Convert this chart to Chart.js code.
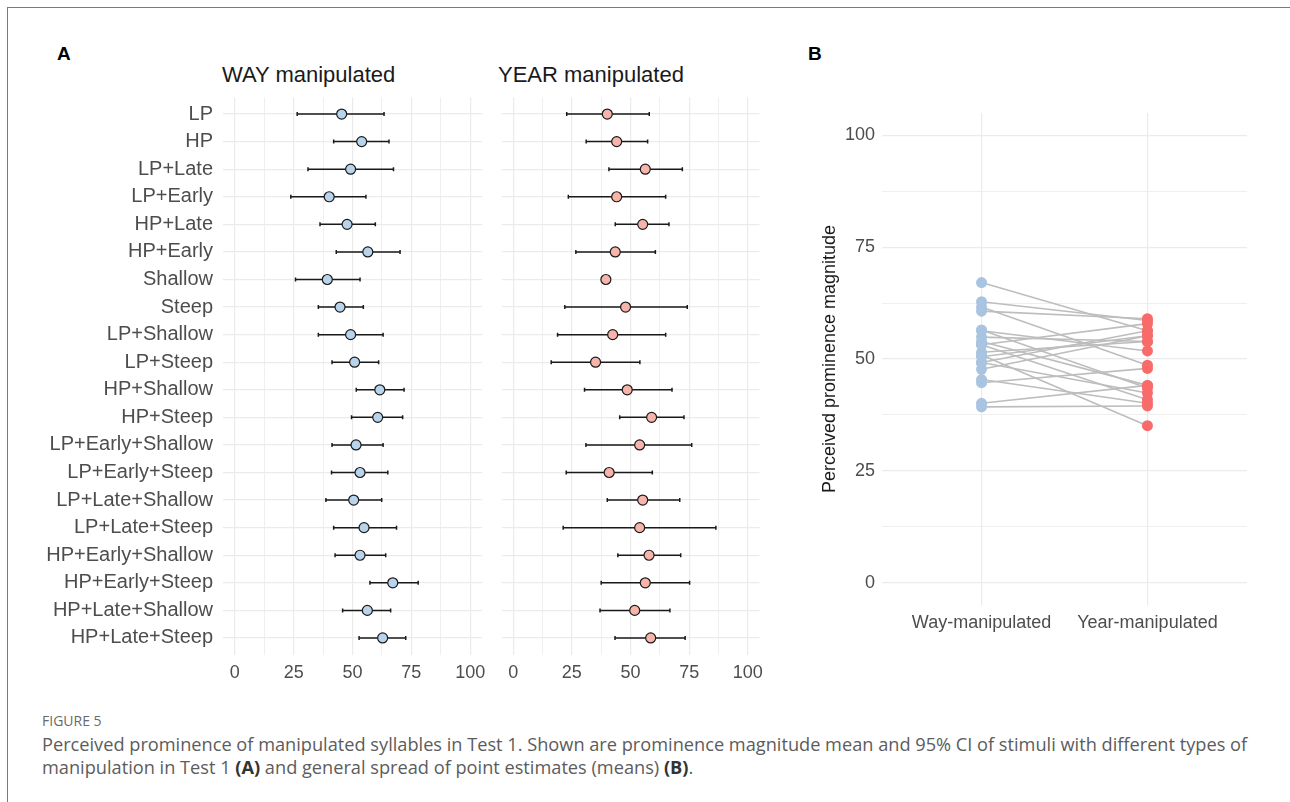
<!DOCTYPE html>
<html>
<head>
<meta charset="utf-8">
<script src="https://cdn.jsdelivr.net/npm/chart.js@4/dist/chart.umd.min.js"></script>
<style>
  body { margin: 0; background: #fff; }
  #page { position: relative; width: 1290px; height: 802px; overflow: hidden; background: #fff; }
  #page canvas { position: absolute; }
  .frame { position: absolute; left: 7px; top: 7px; width: 1290px; height: 800px; border-top: 1px solid #7a7a7a; border-left: 1px solid #7a7a7a; }
  .panel-letter { position: absolute; font: bold 19px "Liberation Sans", Arial, sans-serif; color: #000; line-height: 1; }
  .facet-title { position: absolute; font: 22px "Liberation Sans", Arial, sans-serif; color: #1a1a1a; line-height: 1; white-space: nowrap; }
  .fig-label { position: absolute; left: 42px; top: 711px; font: 14px "Open Sans", Lato, sans-serif; color: #6a6a6a; }
  .caption { position: absolute; left: 42px; top: 733px; font: 18.2px "Open Sans", Lato, sans-serif; line-height: 23px; color: #5c5c5c; white-space: nowrap; }
  .caption b { color: #333; }
</style>
</head>
<body>
<div id="page">
  <div class="frame"></div>
  <div class="panel-letter" style="left:57px; top:44px;">A</div>
  <div class="panel-letter" style="left:808px; top:44px;">B</div>
  <div class="facet-title" style="left:222px; top:64px;">WAY manipulated</div>
  <div class="facet-title" style="left:498px; top:64px;">YEAR manipulated</div>
  <canvas id="wayChart" width="470" height="610" style="left:20px; top:90px;"></canvas>
  <canvas id="yearChart" width="275" height="610" style="left:495px; top:90px;"></canvas>
  <canvas id="spreadChart" width="460" height="540" style="left:810px; top:100px;"></canvas>
  <div class="fig-label">FIGURE 5</div>
  <div class="caption">Perceived prominence of manipulated syllables in Test 1. Shown are prominence magnitude mean and 95% CI of stimuli with different types of<br>manipulation in Test 1 <b>(A)</b> and general spread of point estimates (means) <b>(B)</b>.</div>
</div>
<script>
const rowLabels = ['LP', 'HP', 'LP+Late', 'LP+Early', 'HP+Late', 'HP+Early', 'Shallow', 'Steep',
  'LP+Shallow', 'LP+Steep', 'HP+Shallow', 'HP+Steep', 'LP+Early+Shallow', 'LP+Early+Steep',
  'LP+Late+Shallow', 'LP+Late+Steep', 'HP+Early+Shallow', 'HP+Early+Steep', 'HP+Late+Shallow', 'HP+Late+Steep'];

// WAY manipulated: mean and 95% CI
const wayMean = [45.4, 53.9, 49.2, 40.1, 47.7, 56.5, 39.3, 44.7, 49.2, 50.9, 61.6, 60.7, 51.5, 53.2, 50.5, 54.9, 53.2, 67.1, 56.3, 62.8];
const wayLow  = [26.5, 42.0, 31.1, 23.8, 36.2, 43.1, 25.8, 35.5, 35.5, 41.3, 51.6, 49.6, 41.3, 41.1, 38.7, 42.0, 42.6, 57.4, 45.8, 52.8];
const wayHigh = [63.4, 65.5, 67.4, 55.7, 59.7, 70.2, 53.2, 54.6, 63.0, 61.1, 71.9, 71.3, 63.0, 65.0, 62.4, 68.7, 64.1, 77.9, 66.2, 72.6];

// YEAR manipulated: mean and 95% CI
const yearMean = [40.1, 44.1, 56.3, 44.1, 55.2, 43.5, 39.5, 47.9, 42.4, 35.1, 48.6, 59.0, 53.9, 40.9, 55.2, 53.9, 57.9, 56.3, 51.8, 58.6];
const yearLow  = [22.8, 31.1, 40.8, 23.5, 43.5, 26.7, 39.5, 22.0, 18.9, 16.2, 30.4, 45.4, 31.0, 22.6, 40.1, 21.3, 44.6, 37.5, 37.0, 43.4];
const yearHigh = [58.0, 57.3, 72.1, 65.0, 66.4, 60.6, 39.5, 74.2, 65.0, 54.0, 67.7, 72.8, 76.1, 59.3, 71.0, 86.4, 71.4, 75.2, 66.8, 73.3];

const groupLabels = ['Way-manipulated', 'Year-manipulated'];
const valueTicks = [0, 12.5, 25, 37.5, 50, 62.5, 75, 87.5, 100];

const gridGrey = '#ebebeb';
const tickGrey = '#4d4d4d';
const fontFamily = '"Liberation Sans", Arial, sans-serif';

// keep tick labels from pushing the plot area around
function noPad(s){
    s.paddingTop = 0; s.paddingBottom = 0;
    s.paddingLeft = 0; s.paddingRight = 0;
}

function facetChart(canvas, means, lows, highs, fill, showLabels, pad) {
    let ciPoints = [];
    rowLabels.forEach((label, i) => {
        ciPoints.push({x: lows[i], y: i + 1});
        ciPoints.push({x: highs[i], y: i + 1});
        ciPoints.push({x: null, y: i + 1});
    });
    let meanPoints = means.map((m, i) => ({x: m, y: i + 1}));

    return new Chart(canvas, {
        type: 'scatter',
        data: {
            datasets: [{
                data: meanPoints,
                order: 0,
                pointRadius: 5,
                pointBackgroundColor: fill,
                pointBorderColor: '#1a1a1a',
                pointBorderWidth: 1.2
            }, {
                data: ciPoints,
                order: 1,
                showLine: true,
                spanGaps: false,
                borderColor: '#1a1a1a',
                borderWidth: 1.5,
                pointStyle: 'line',
                rotation: 90,
                pointRadius: 2,
                pointBorderColor: '#1a1a1a',
                pointBorderWidth: 1.5
            }]
        },
        options: {
            responsive: false,
            animation: false,
            layout: {padding: pad},
            plugins: {legend: {display: false}, tooltip: {enabled: false}},
            scales: {
                x: {
                    type: 'linear', min: -5, max: 105,
                    afterBuildTicks: s => { s.ticks = valueTicks.map(v => ({value: v})); },
                    afterFit: s => { s.height = 45.5; noPad(s); },
                    border: {display: false},
                    grid: {
                        color: gridGrey, drawTicks: false,
                        lineWidth: c => (c.tick && c.tick.value % 25 === 0) ? 1.2 : 0.8
                    },
                    ticks: {
                        autoSkip: false, maxRotation: 0, padding: 8, color: tickGrey,
                        font: {family: fontFamily, size: 18},
                        callback: v => v % 25 === 0 ? v : ''
                    }
                },
                y: {
                    type: 'linear', min: 0.4, max: 20.6, reverse: true,
                    afterBuildTicks: s => { s.ticks = rowLabels.map((l, i) => ({value: i + 1})); },
                    afterFit: s => { s.width = showLabels ? 203 : 0; noPad(s); },
                    border: {display: false},
                    grid: {color: gridGrey, drawTicks: false, lineWidth: 1.2},
                    ticks: {
                        display: showLabels, autoSkip: false, padding: 10, color: tickGrey,
                        font: {family: fontFamily, size: 20},
                        callback: v => rowLabels[Math.round(v) - 1]
                    }
                }
            }
        }
    });
}

facetChart(document.getElementById('wayChart'), wayMean, wayLow, wayHigh, '#b8d4ec', true,
    {top: 7.5, right: 8, left: 0, bottom: 0});
facetChart(document.getElementById('yearChart'), yearMean, yearLow, yearHigh, '#f7b4aa', false,
    {top: 7.5, right: 10.5, left: 6.5, bottom: 0});

// panel B: each stimulus connects its way mean with its year mean
let pairLines = wayMean.map((w, i) => ({
    data: [{x: 1, y: w}, {x: 2, y: yearMean[i]}],
    order: 1,
    showLine: true,
    borderColor: '#bdbdbd',
    borderWidth: 1.6,
    pointRadius: 0
}));

new Chart(document.getElementById('spreadChart'), {
    type: 'scatter',
    data: {
        datasets: [{
            data: wayMean.map(v => ({x: 1, y: v})),
            order: 0, pointRadius: 5.5, pointBorderWidth: 0,
            pointBackgroundColor: '#a8c4e0'
        }, {
            data: yearMean.map(v => ({x: 2, y: v})),
            order: 0, pointRadius: 5.5, pointBorderWidth: 0,
            pointBackgroundColor: '#f96b6b'
        }].concat(pairLines)
    },
    options: {
        responsive: false,
        animation: false,
        layout: {padding: {top: 13, right: 23, left: 0, bottom: 0}},
        plugins: {legend: {display: false}, tooltip: {enabled: false}},
        scales: {
            x: {
                type: 'linear', min: 0.4, max: 2.6,
                afterBuildTicks: s => { s.ticks = [{value: 1}, {value: 2}]; },
                afterFit: s => { s.height = 35; noPad(s); },
                border: {display: false},
                grid: {color: gridGrey, drawTicks: false, lineWidth: 1.2},
                ticks: {
                    autoSkip: false, maxRotation: 0, padding: 7, color: tickGrey,
                    font: {family: fontFamily, size: 18},
                    callback: v => groupLabels[Math.round(v) - 1]
                }
            },
            y: {
                type: 'linear', min: -5, max: 105,
                afterBuildTicks: s => { s.ticks = valueTicks.map(v => ({value: v})); },
                afterFit: s => { s.width = 72; noPad(s); },
                border: {display: false},
                grid: {
                    color: gridGrey, drawTicks: false,
                    lineWidth: c => (c.tick && c.tick.value % 25 === 0) ? 1.2 : 0.8
                },
                title: {
                    display: true, text: 'Perceived prominence magnitude', color: '#1a1a1a',
                    font: {family: fontFamily, size: 18}, padding: {top: 9, bottom: 0}
                },
                ticks: {
                    autoSkip: false, padding: 7, color: tickGrey,
                    font: {family: fontFamily, size: 18},
                    callback: v => v % 25 === 0 ? v : ''
                }
            }
        }
    }
});
</script>
</body>
</html>
